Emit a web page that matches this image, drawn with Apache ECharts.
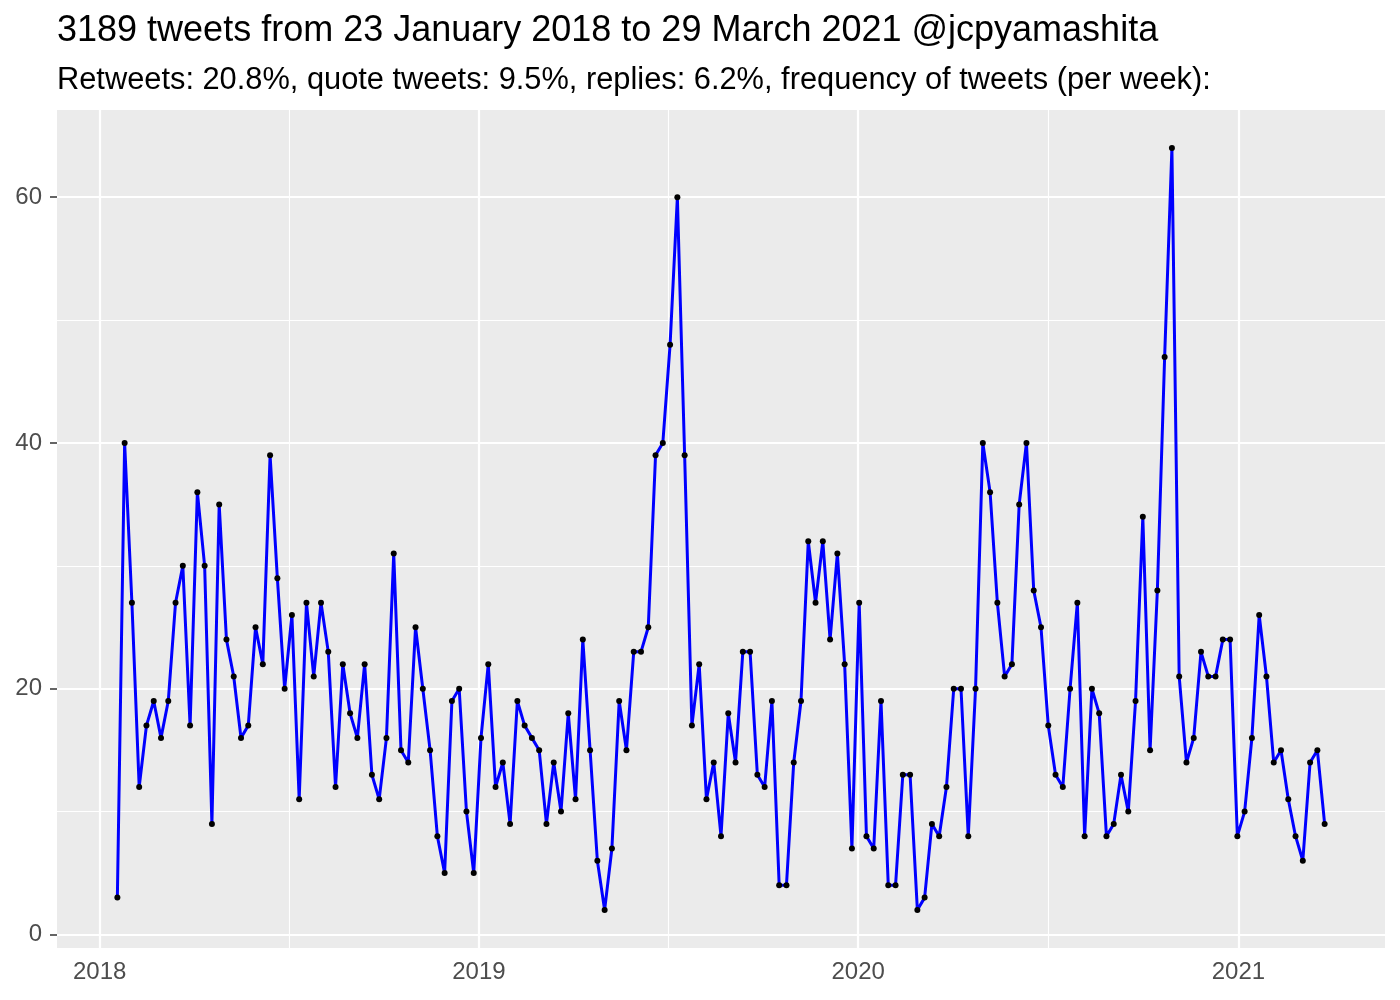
<!DOCTYPE html>
<html>
<head>
<meta charset="utf-8">
<script src="https://cdn.jsdelivr.net/npm/echarts@6/dist/echarts.min.js"></script>
<style>
html,body{margin:0;padding:0;background:#fff;}
#chart{width:1400px;height:1000px;}
</style>
</head>
<body>
<div id="chart"></div>
<script>
// ---- data ----
const titleText = '3189 tweets from 23 January 2018 to 29 March 2021 @jcpyamashita';
const subtitleText = 'Retweets: 20.8%, quote tweets: 9.5%, replies: 6.2%, frequency of tweets (per week):';
const firstWeek = '2018-01-18';   // first weekly bin
const weeklyCounts = [
  3,40,27,12,17,19,16,19,27,30,17,36,30,9,35,24,21,16,17,25,
  22,39,29,20,26,11,27,21,27,23,12,22,18,16,22,13,11,16,31,15,
  14,25,20,15,8,5,19,20,10,5,16,22,12,14,9,19,17,16,15,9,
  14,10,18,11,24,15,6,2,7,19,15,23,23,25,39,40,48,60,39,17,
  22,11,14,8,18,14,23,23,13,12,19,4,4,14,19,32,27,32,24,31,
  22,7,27,8,7,19,4,4,13,13,2,3,9,8,12,20,20,8,20,40,
  36,27,21,22,35,40,28,25,17,13,12,20,27,8,20,18,8,9,13,10,
  19,34,15,28,47,64,21,14,16,23,21,21,24,24,8,10,16,26,21,14,
  15,11,8,6,14,15,9
];
const yTicks = [0, 20, 40, 60];
const yMinor = [10, 30, 50];
const xTickYears = [2018, 2019, 2020, 2021];

// ---- build ----
const DAY = 86400000;
const t0 = Date.parse(firstWeek + 'T00:00:00Z');
const points = weeklyCounts.map((v, i) => [t0 + i * 7 * DAY, v]);
const xs = points.map(p => p[0]);
const xLo = Math.min(...xs), xHi = Math.max(...xs);
const xPad = (xHi - xLo) * 0.05;
const yLo = Math.min(...weeklyCounts), yHi = Math.max(...weeklyCounts);
const yPad = (yHi - yLo) * 0.05;
const xMin = xLo - xPad, xMax = xHi + xPad;
const yMin = yLo - yPad, yMax = yHi + yPad;

const yearTs = xTickYears.map(y => Date.UTC(y, 0, 1));
const midTs = [];
for (let i = 0; i < yearTs.length - 1; i++) midTs.push((yearTs[i] + yearTs[i + 1]) / 2);

const majorLine = {color: '#FFFFFF', width: 2.2, type: 'solid'};
const minorLine = {color: '#FFFFFF', width: 1.1, type: 'solid'};
const FONT = '"Liberation Sans", Arial, Helvetica, sans-serif';

const chart = echarts.init(document.getElementById('chart'), null, {renderer: 'canvas'});
chart.setOption({
  animation: false,
  backgroundColor: '#FFFFFF',
  title: [
    {text: titleText, left: 57, top: 13, padding: 0,
     textStyle: {fontFamily: FONT, fontSize: 36, fontWeight: 'normal', color: '#000000'}},
    {text: subtitleText, left: 57, top: 65, padding: 0,
     textStyle: {fontFamily: FONT, fontSize: 30.8, fontWeight: 'normal', color: '#000000'}}
  ],
  grid: {left: 57, right: 15, top: 110, bottom: 52, show: true,
         backgroundColor: '#EBEBEB', borderWidth: 0, containLabel: false},
  xAxis: {
    type: 'value', min: xMin, max: xMax,
    axisLine: {show: false},
    splitLine: {show: false},
    axisTick: {show: true, customValues: yearTs, length: 7, lineStyle: {color: '#333333', width: 1.5}},
    axisLabel: {show: true, customValues: yearTs, margin: 12, color: '#4D4D4D', fontSize: 24, fontFamily: FONT,
      formatter: v => String(new Date(v).getUTCFullYear())}
  },
  yAxis: {
    type: 'value', min: yMin, max: yMax,
    axisLine: {show: false},
    splitLine: {show: false},
    axisTick: {show: true, customValues: yTicks, length: 7, lineStyle: {color: '#333333', width: 1.5}},
    axisLabel: {show: true, customValues: yTicks, margin: 15, color: '#4D4D4D', fontSize: 24, fontFamily: FONT}
  },
  series: [
    {
      type: 'line', data: [], z: 1, silent: true,
      markLine: {
        z: 1, silent: true, symbol: ['none', 'none'], label: {show: false}, animation: false,
        emphasis: {disabled: true},
        data: [
          ...yMinor.map(v => ({yAxis: v, lineStyle: minorLine})),
          ...midTs.map(v => ({xAxis: v, lineStyle: minorLine})),
          ...yTicks.map(v => ({yAxis: v, lineStyle: majorLine})),
          ...yearTs.map(v => ({xAxis: v, lineStyle: majorLine}))
        ]
      }
    },
    {
      type: 'line', data: points, z: 3,
      lineStyle: {color: '#0000FF', width: 3},
      symbol: 'circle', symbolSize: 6, showAllSymbol: true,
      itemStyle: {color: '#000000', borderWidth: 0},
      emphasis: {disabled: true}
    }
  ]
});
</script>
</body>
</html>
